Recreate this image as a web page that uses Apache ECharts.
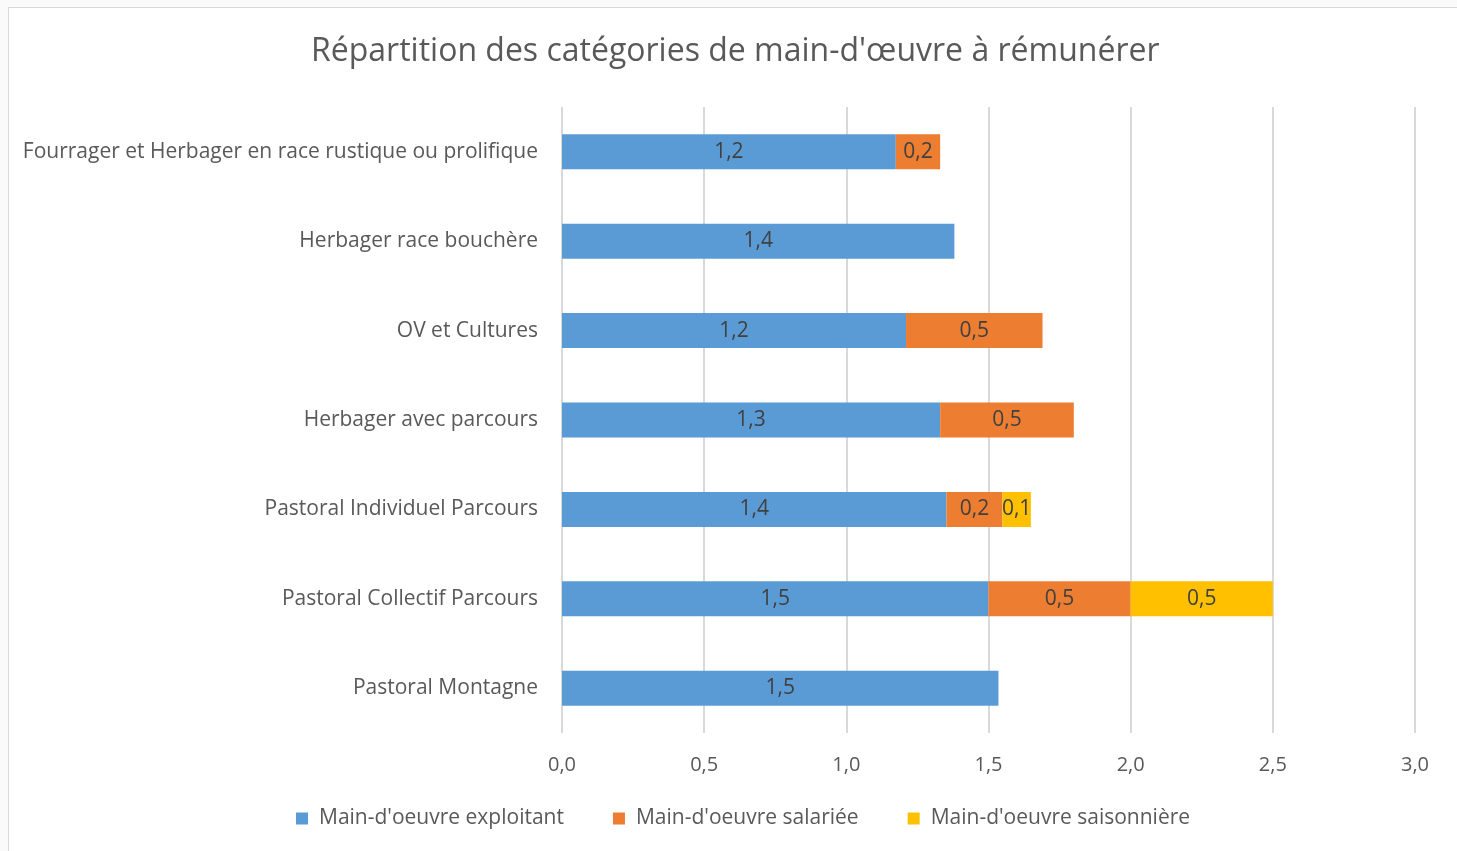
<!DOCTYPE html>
<html>
<head>
<meta charset="utf-8">
<script src="https://cdn.jsdelivr.net/npm/echarts@6/dist/echarts.min.js"></script>
<style>
  html, body { margin: 0; padding: 0; background: #fafafa; }
  #frame { position: absolute; left: 8px; top: 7px; width: 1460px; height: 860px;
           background: #fff; border: 1px solid #d9d9d9; }
  #chart { position: absolute; left: -9px; top: -8px; width: 1457px; height: 851px; }
</style>
</head>
<body>
<div id="frame"><div id="chart"></div></div>
<script>
// catégories, de haut en bas
const categories = [
  'Fourrager et Herbager en race rustique ou prolifique',
  'Herbager race bouchère',
  'OV et Cultures',
  'Herbager avec parcours',
  'Pastoral Individuel Parcours',
  'Pastoral Collectif Parcours',
  'Pastoral Montagne'
];
const exploitant  = [1.174, 1.38, 1.21, 1.33, 1.352, 1.50, 1.535];
const salariee    = [0.156, null, 0.48, 0.47, 0.197, 0.50, null];
const saisonniere = [null, null, null, null, 0.10, 0.50, null];
const seriesNames = ["Main-d'oeuvre exploitant", "Main-d'oeuvre salariée", "Main-d'oeuvre saisonnière"];
const colors = ['#5b9bd5', '#ed7d31', '#ffc000'];

const font = "'Open Sans', 'Noto Sans', sans-serif";
const fmt = v => v.toFixed(1).replace('.', ',');

const labelStyle = {
  show: true, position: 'inside', color: '#404040', fontSize: 21, fontFamily: font,
  formatter: p => (p.value == null ? '' : fmt(p.value))
};

function bar(name, data, color) {
  return {
    name, type: 'bar', stack: 'total', data, barWidth: 35,
    itemStyle: { color }, label: labelStyle, emphasis: { disabled: true }
  };
}

const chart = echarts.init(document.getElementById('chart'));
chart.setOption({
  animation: false,
  textStyle: { fontFamily: font },
  title: {
    text: "Répartition des catégories de main-d'œuvre à rémunérer",
    left: 306, top: 31,
    textStyle: { fontSize: 32, fontWeight: 'normal', color: '#595959', fontFamily: font }
  },
  legend: {
    bottom: 17, left: 291, itemWidth: 12, itemHeight: 12, itemGap: 49, icon: 'rect',
    textStyle: { fontSize: 21, color: '#595959', fontFamily: font, padding: [0, 0, 0, 6] }
  },
  grid: { left: 562, right: 42, top: 107, bottom: 118 },
  xAxis: {
    type: 'value', min: 0, max: 3, interval: 0.5,
    axisLabel: { formatter: fmt, fontSize: 20, color: '#595959', margin: 22 },
    axisLine: { show: false }, axisTick: { show: false },
    splitLine: { lineStyle: { color: '#d9d9d9', width: 2 } }
  },
  yAxis: {
    type: 'category', data: categories, inverse: true,
    axisLabel: { fontSize: 21, color: '#595959', margin: 24 },
    axisLine: { show: false }, axisTick: { show: false }
  },
  series: [
    bar(seriesNames[0], exploitant, colors[0]),
    bar(seriesNames[1], salariee, colors[1]),
    bar(seriesNames[2], saisonniere, colors[2])
  ]
});
</script>
</body>
</html>
